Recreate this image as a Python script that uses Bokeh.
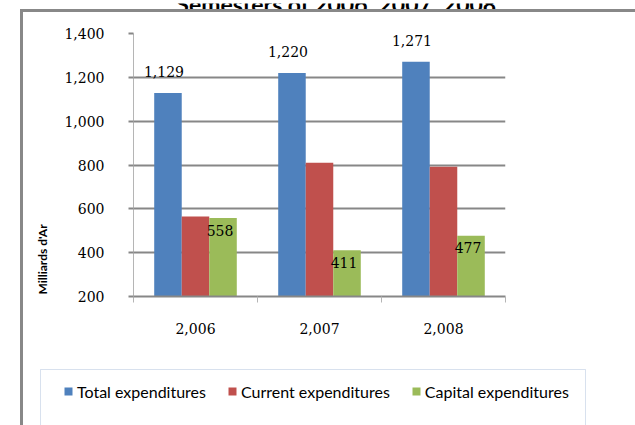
import numpy as np
from bokeh.plotting import figure
from bokeh.layouts import row, column
from bokeh.models import (Range1d, FixedTicker, NumeralTickFormatter, Legend, LegendItem,
                          BoxAnnotation, Label)
from bokeh.core.properties import value
from bokeh.embed import file_html
from bokeh.resources import INLINE

# ---- data ----
title_text = "Semesters of 2006, 2007, 2008"
years = ["2,006", "2,007", "2,008"]
total = [1129, 1220, 1271]
current = [565, 810, 792]
capital = [558, 411, 477]
series_names = ["Total expenditures", "Current expenditures", "Capital expenditures"]
colors = ["#4F81BD", "#C0504D", "#9BBB59"]
y_ticks = [200, 400, 600, 800, 1000, 1200, 1400]
y_label = "Milliards d'Ar"

n = len(years)
centers = np.arange(n) + 0.5
bw = 0.222
offsets = [-bw, 0.0, bw]
series = [total, current, capital]

# ---------------- (cut-off) title strip ----------------
tfig = figure(width=635, height=9, x_range=Range1d(0, 635), y_range=Range1d(0, 9),
              x_axis_type=None, y_axis_type=None, output_backend="svg",
              toolbar_location=None, min_border=0)
tfig.outline_line_color = None
tfig.grid.visible = False
tfig.add_layout(Label(x=336, y=8.5, text=title_text, text_align="center",
                      text_baseline="alphabetic", text_font="Lato", text_font_style="bold",
                      text_font_size="23px", text_color="black"))

# ---------------- main chart ----------------
fig = figure(width=579, height=355, x_range=Range1d(0, n), y_range=Range1d(200, 1400),
             output_backend="svg", toolbar_location=None,
             min_border_left=77, min_border_right=130, min_border_top=21, min_border_bottom=71)
fig.outline_line_color = None
fig.background_fill_color = "white"
fig.border_fill_color = "white"

for vals, off, col in zip(series, offsets, colors):
    fig.vbar(x=centers + off, top=vals, bottom=0, width=bw, fill_color=col, line_color=None)

lab_font = value("DejaVu Serif")
fig.text(x=centers + offsets[0], y=total, text=[f"{v:,}" for v in total],
         text_font=lab_font, text_font_size="14px", text_align="center",
         text_baseline="middle", x_offset=-4, y_offset=-21, text_color="black")
fig.text(x=centers + offsets[2], y=capital, text=[f"{v:,}" for v in capital],
         text_font=lab_font, text_font_size="14px", text_align="center",
         text_baseline="middle", x_offset=-3, y_offset=12, text_color="black")

grid_col = "#878787"
fig.xgrid.visible = False
fig.ygrid.ticker = FixedTicker(ticks=y_ticks)
fig.ygrid.grid_line_color = grid_col
fig.ygrid.grid_line_width = 2

ya = fig.yaxis[0]
ya.ticker = FixedTicker(ticks=y_ticks)
ya.formatter = NumeralTickFormatter(format="0,0")
ya.axis_line_color = "#b5b5b5"
ya.axis_line_width = 1
ya.major_tick_line_color = grid_col
ya.major_tick_line_width = 2
ya.major_tick_out = 5
ya.major_tick_in = 0
ya.minor_tick_line_color = None
ya.major_label_standoff = 24
ya.major_label_text_font = "DejaVu Serif"
ya.major_label_text_font_size = "14px"
ya.major_label_text_color = "black"

xa = fig.xaxis[0]
xa.ticker = FixedTicker(ticks=list(centers), minor_ticks=list(range(n + 1)))
xa.major_label_overrides = {float(c): y for c, y in zip(centers, years)}
xa.axis_line_color = grid_col
xa.axis_line_width = 2
xa.major_tick_out = 0
xa.major_tick_in = 0
xa.major_tick_line_color = None
xa.minor_tick_out = 6
xa.minor_tick_in = 0
xa.minor_tick_line_color = "#b5b5b5"
xa.minor_tick_line_width = 1
xa.major_label_standoff = 20
xa.major_label_text_font = "DejaVu Serif"
xa.major_label_text_font_size = "14px"
xa.major_label_text_color = "black"

# ---------------- y-axis title strip ----------------
ylab = figure(width=33, height=355, x_range=Range1d(0, 33), y_range=Range1d(0, 355),
              x_axis_type=None, y_axis_type=None, output_backend="svg",
              toolbar_location=None, min_border=0)
ylab.outline_line_color = None
ylab.grid.visible = False
ylab.add_layout(Label(x=19, y=50, text=y_label, angle=np.pi / 2, text_align="center",
                      text_baseline="middle", text_font="Lato", text_font_style="bold",
                      text_font_size="12px", text_color="black"))

# ---------------- legend strip ----------------
leg = figure(width=612, height=58, x_range=Range1d(0, 612), y_range=Range1d(0, 58),
             x_axis_type=None, y_axis_type=None, output_backend="svg",
             toolbar_location=None, min_border=0)
leg.outline_line_color = None
leg.grid.visible = False
# off-screen proxies that only supply the legend swatches
leg_renderers = [leg.vbar(x=[-1000], top=[-1000], bottom=[-1001], width=1,
                          fill_color=c, line_color=None) for c in colors]
legend = Legend(items=[LegendItem(label=nm, renderers=[r]) for nm, r in zip(series_names, leg_renderers)],
                orientation="horizontal", location=(40, 24),
                glyph_width=10, glyph_height=10, label_standoff=4, spacing=21,
                padding=10, margin=0, label_height=20,
                label_text_font="Lato", label_text_font_size="16px", label_text_color="black",
                border_line_color=None, background_fill_alpha=0)
leg.add_layout(legend, "center")
leg.add_layout(BoxAnnotation(left=17, right=562, top=56, bottom=-20, fill_alpha=0,
                             line_color="#7d9cc8", line_width=1))

inner = column(row(ylab, fig, spacing=0), leg, spacing=0,
               styles={"margin-left": "20px",
                       "border-left": "3px solid #888888", "border-top": "3px solid #888888"})
p = column(tfig, inner, spacing=0)

open("out.html", "w").write(file_html(p, INLINE))
